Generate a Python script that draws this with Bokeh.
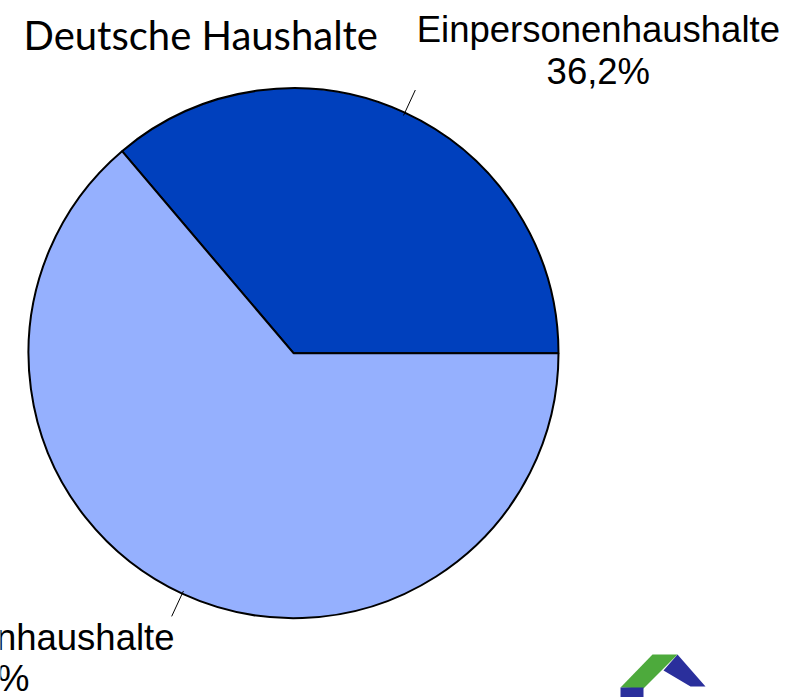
import math
from bokeh.plotting import figure
from bokeh.models import ColumnDataSource, Label
from bokeh.embed import file_html
from bokeh.resources import INLINE
from bokeh.core.properties import value

# ---- data ----
title_text = "Deutsche Haushalte"
categories = ["Einpersonenhaushalte", "Mehrpersonenhaushalte"]
shares = [36.2, 63.8]
share_labels = ["36,2%", "63,8%"]
colors = ["#0040BD", "#95B0FE"]

# ---- geometry (1 data unit = 1 px, pie centre at 0,0) ----
W, H = 801, 697
cx_px, cy_px = 293, 352.7          # pie centre on canvas
R = 265

p = figure(width=W, height=H, output_backend="svg", toolbar_location=None,
           x_range=(-cx_px, W - cx_px), y_range=(cy_px - H, cy_px),
           min_border=0, outline_line_color=None, background_fill_color="white")
p.axis.visible = False
p.grid.visible = False

total = sum(shares)
starts, ends = [], []
acc = 0.0
for s in shares:
    starts.append(2 * math.pi * acc / total)
    acc += s
    ends.append(2 * math.pi * acc / total)

src = ColumnDataSource(dict(start=starts, end=ends, color=colors, cat=categories))
p.wedge(x=0, y=0, radius=R, start_angle="start", end_angle="end", source=src,
        fill_color="color", line_color="black", line_width=2, direction="anticlock")

# leader lines and labels
font = value("Liberation Sans")
fs = "36.5px"
for i, cat in enumerate(categories):
    mid = (starts[i] + ends[i]) / 2
    x0, y0 = (R - 3) * math.cos(mid), (R - 3) * math.sin(mid)
    x1, y1 = (R + 25) * math.cos(mid), (R + 25) * math.sin(mid)
    p.line([x0, x1], [y0, y1], line_color="black", line_width=1)
    if math.cos(mid) >= 0:
        lx = x1 + 183
        base2 = y1 + 19
        base1 = base2 + 42
    else:
        lx = x1 - 194
        base1 = y1 - 21
        base2 = base1 - 41
    p.text(x=[lx, lx], y=[base1, base2], text=[cat, share_labels[i]],
           text_font=font, text_font_size=fs, text_align="center",
           text_baseline="alphabetic", text_color="black")

# title
p.add_layout(Label(x=-270, y=318, text=title_text, text_font="Lato",
                   text_font_size="40px", text_align="left",
                   text_baseline="alphabetic", text_color="black"))

# small house logo (decoration, bottom right)
def tx(sx):
    return sx - cx_px
def ty(sy):
    return cy_px - sy
p.patch([tx(v) for v in (677, 705, 690, 663)], [ty(v) for v in (654, 686, 686, 670)],
        fill_color="#2A2F9C", line_color=None)
p.patch([tx(v) for v in (620, 652, 677, 643)], [ty(v) for v in (687, 654, 654, 688)],
        fill_color="#4DAA3C", line_color=None)
p.patch([tx(v) for v in (620, 643, 643, 620)], [ty(v) for v in (687, 687, 700, 700)],
        fill_color="#2A2F9C", line_color=None)

open("out.html", "w").write(file_html(p, INLINE))
